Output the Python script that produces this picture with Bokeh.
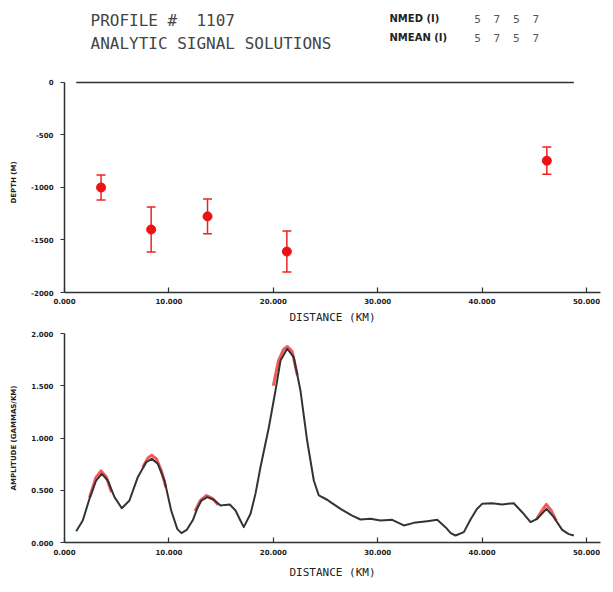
from bokeh.plotting import figure
from bokeh.layouts import column
from bokeh.models import Range1d, FixedTicker, NumeralTickFormatter, ColumnDataSource, Whisker, TeeHead
from bokeh.core.properties import value
from bokeh.embed import file_html
from bokeh.resources import INLINE

# ---------------- data ----------------
profile_id = "1107"
subtitle = "ANALYTIC SIGNAL SOLUTIONS"
nmed = [5, 7, 5, 7]
nmean = [5, 7, 5, 7]

x_ticks = [0, 10, 20, 30, 40, 50]
depth_ticks = [0, -500, -1000, -1500, -2000]
amp_ticks = [0.0, 0.5, 1.0, 1.5, 2.0]

# solutions (depth) with error bars
sol_dist = [3.5, 8.3, 13.7, 21.3, 46.2]
sol_depth = [-1000, -1400, -1275, -1610, -745]
sol_err = [120, 215, 165, 195, 130]

# observed analytic signal profile
dist = [1.12, 1.75, 2.39, 3.03, 3.57, 4.15, 4.79, 5.49, 6.22, 7.02, 7.82, 8.36, 8.94,
        9.58, 10.22, 10.8, 11.2, 11.7, 12.3, 12.7, 13.1, 13.66, 14.3, 14.94, 15.4, 15.83,
        16.38, 16.8, 17.17, 17.82, 18.3, 18.77, 19.57, 20.21, 20.69, 21.33, 21.96, 22.6,
        23.24, 23.88, 24.36, 25.16, 25.48, 26.44, 27.5, 28.35, 29.31, 30.27, 31.39, 32.5,
        33.46, 34.74, 35.7, 36.49, 37.0, 37.45, 38.25, 38.89, 39.5, 40.0, 40.96, 41.92,
        43.03, 43.84, 44.64, 45.27, 46.17, 46.87, 47.67, 48.3, 48.79]
amp = [0.108, 0.21, 0.418, 0.593, 0.657, 0.593, 0.434, 0.328, 0.402, 0.625, 0.768, 0.80,
       0.753, 0.593, 0.306, 0.13, 0.09, 0.12, 0.215, 0.322, 0.40, 0.434, 0.409, 0.354,
       0.36, 0.364, 0.306, 0.22, 0.147, 0.275, 0.47, 0.72, 1.10, 1.455, 1.742, 1.854,
       1.773, 1.455, 0.976, 0.593, 0.45, 0.409, 0.386, 0.322, 0.26, 0.22, 0.227, 0.21,
       0.217, 0.163, 0.188, 0.204, 0.217, 0.147, 0.09, 0.067, 0.099, 0.22, 0.32, 0.37,
       0.376, 0.364, 0.376, 0.29, 0.194, 0.227, 0.322, 0.242, 0.121, 0.08, 0.067]

# fitted (model) curves over each solution window
fit1_x = [2.4, 3.0, 3.5, 4.0, 4.5]
fit1_y = [0.43, 0.62, 0.685, 0.63, 0.48]
fit2_x = [7.5, 8.0, 8.35, 8.8, 9.3, 9.7]
fit2_y = [0.72, 0.81, 0.835, 0.80, 0.68, 0.53]
fit3_x = [12.5, 13.0, 13.6, 14.2, 14.7]
fit3_y = [0.30, 0.40, 0.45, 0.42, 0.36]
fit4_x = [20.0, 20.5, 21.0, 21.35, 21.8, 22.3]
fit4_y = [1.50, 1.74, 1.85, 1.876, 1.83, 1.60]
fit5_x = [45.2, 45.7, 46.15, 46.6, 47.1]
fit5_y = [0.22, 0.30, 0.365, 0.31, 0.21]

# ---------------- styling helpers ----------------
AX = "#2b3333"
TICKFONT = "DejaVu Sans"
LABFONT = "DejaVu Sans Mono"


def style_axes(p):
    p.grid.visible = False
    p.outline_line_color = None
    p.background_fill_color = "white"
    p.border_fill_color = "white"
    for ax in p.axis:
        ax.axis_line_color = AX
        ax.axis_line_width = 1.5
        ax.major_tick_line_color = AX
        ax.major_tick_line_width = 1.2
        ax.minor_tick_line_color = None
        ax.major_label_text_font = TICKFONT
        ax.major_label_text_font_style = "bold"
        ax.major_label_text_font_size = "7px"
        ax.major_label_text_color = "#222222"
        ax.axis_label_text_font_style = "normal"
        ax.axis_label_text_color = "#222222"


LEFT = 64
FRAME_W = 536
RIGHT = 8
W = LEFT + FRAME_W + RIGHT
X_END = 51.34

# ---------------- header ----------------
HDR_H = 60
hdr = figure(width=W, height=HDR_H, x_range=Range1d(LEFT, LEFT + FRAME_W), y_range=Range1d(HDR_H, 0),
             toolbar_location=None, output_backend="svg",
             min_border_left=LEFT, min_border_right=RIGHT, min_border_top=0, min_border_bottom=0)
hdr.axis.visible = False
hdr.grid.visible = False
hdr.outline_line_color = None
hdr.text(x=[90, 90], y=[19.5, 43], text=["PROFILE #\u00a0\u00a0" + profile_id, subtitle],
         text_font=value(LABFONT), text_font_size="16px", text_color="#444444",
         text_baseline="alphabetic", text_align="left")
hdr.text(x=[389, 389], y=[18, 37], text=["NMED (I)", "NMEAN (I)"],
         text_font=value("DejaVu Sans"), text_font_size="10px", text_font_style="bold",
         text_color="#222222", text_baseline="alphabetic", text_align="left")
hdr.text(x=[477 + 19.4 * i for i in range(len(nmed))], y=[18] * len(nmed),
         text=[str(v) for v in nmed], text_font=value(LABFONT), text_font_size="11px",
         text_color="#555555", text_baseline="alphabetic", text_align="center")
hdr.text(x=[477 + 19.4 * i for i in range(len(nmean))], y=[37] * len(nmean),
         text=[str(v) for v in nmean], text_font=value(LABFONT), text_font_size="11px",
         text_color="#555555", text_baseline="alphabetic", text_align="center")

# ---------------- depth panel ----------------
p1 = figure(width=W, height=12 + 220 + 34, x_range=Range1d(0, X_END), y_range=Range1d(-2000, 95),
            toolbar_location=None, output_backend="svg",
            min_border_left=LEFT, min_border_right=RIGHT, min_border_top=12, min_border_bottom=34)
style_axes(p1)
p1.xaxis.ticker = FixedTicker(ticks=x_ticks)
p1.xaxis.formatter = NumeralTickFormatter(format="0.000")
p1.xaxis.major_tick_in = 5
p1.xaxis.major_tick_out = 0
p1.xaxis.major_label_standoff = 5
p1.xaxis.axis_label = "DISTANCE (KM)"
p1.xaxis.axis_label_text_font = LABFONT
p1.xaxis.axis_label_text_font_size = "11px"
p1.xaxis.axis_label_standoff = 4
p1.yaxis.ticker = FixedTicker(ticks=depth_ticks)
p1.yaxis.formatter = NumeralTickFormatter(format="0")
p1.yaxis.bounds = (-2000, 0)
p1.yaxis.major_tick_in = 0
p1.yaxis.major_tick_out = 4
p1.yaxis.major_label_standoff = 7
p1.yaxis.axis_label = "DEPTH (M)"
p1.yaxis.axis_label_text_font = TICKFONT
p1.yaxis.axis_label_text_font_size = "7px"
p1.yaxis.axis_label_text_font_style = "bold"
p1.yaxis.axis_label_standoff = 10

# ground surface line over the profile extent
p1.line(x=[min(dist), max(dist)], y=[0, 0], line_color="#333333", line_width=1.6)

src = ColumnDataSource(data=dict(
    x=sol_dist, y=sol_depth,
    upper=[d + e for d, e in zip(sol_depth, sol_err)],
    lower=[d - e for d, e in zip(sol_depth, sol_err)]))
wh = Whisker(source=src, base="x", upper="upper", lower="lower", dimension="height",
             line_color="#ee2222", line_width=1.5,
             upper_head=TeeHead(size=9, line_color="#ee2222", line_width=1.5),
             lower_head=TeeHead(size=9, line_color="#ee2222", line_width=1.5))
p1.add_layout(wh)
p1.scatter(x="x", y="y", source=src, size=9, color="#ee1111")

# ---------------- amplitude panel ----------------
p2 = figure(width=W, height=7 + 209 + 40, x_range=Range1d(0, X_END), y_range=Range1d(0, 2.0),
            toolbar_location=None, output_backend="svg",
            min_border_left=LEFT, min_border_right=RIGHT, min_border_top=7, min_border_bottom=40)
style_axes(p2)
p2.xaxis.ticker = FixedTicker(ticks=x_ticks)
p2.xaxis.formatter = NumeralTickFormatter(format="0.000")
p2.xaxis.major_tick_in = 5
p2.xaxis.major_tick_out = 0
p2.xaxis.major_label_standoff = 6
p2.xaxis.axis_label = "DISTANCE (KM)"
p2.xaxis.axis_label_text_font = LABFONT
p2.xaxis.axis_label_text_font_size = "11px"
p2.xaxis.axis_label_standoff = 8
p2.yaxis.ticker = FixedTicker(ticks=amp_ticks)
p2.yaxis.formatter = NumeralTickFormatter(format="0.000")
p2.yaxis.major_tick_in = 0
p2.yaxis.major_tick_out = 4
p2.yaxis.major_label_standoff = 7
p2.yaxis.axis_label = "AMPLITUDE (GAMMAS/KM)"
p2.yaxis.axis_label_text_font = TICKFONT
p2.yaxis.axis_label_text_font_size = "7px"
p2.yaxis.axis_label_text_font_style = "bold"
p2.yaxis.axis_label_standoff = 10

p2.multi_line(xs=[fit1_x, fit2_x, fit3_x, fit4_x, fit5_x],
              ys=[fit1_y, fit2_y, fit3_y, fit4_y, fit5_y],
              line_color="#ee2222", line_width=3, line_alpha=0.75, line_join="round")
p2.line(x=dist, y=amp, line_color="#333333", line_width=2, line_join="round")

layout = column(hdr, p1, p2, spacing=0)
open("out.html", "w").write(file_html(layout, INLINE))
